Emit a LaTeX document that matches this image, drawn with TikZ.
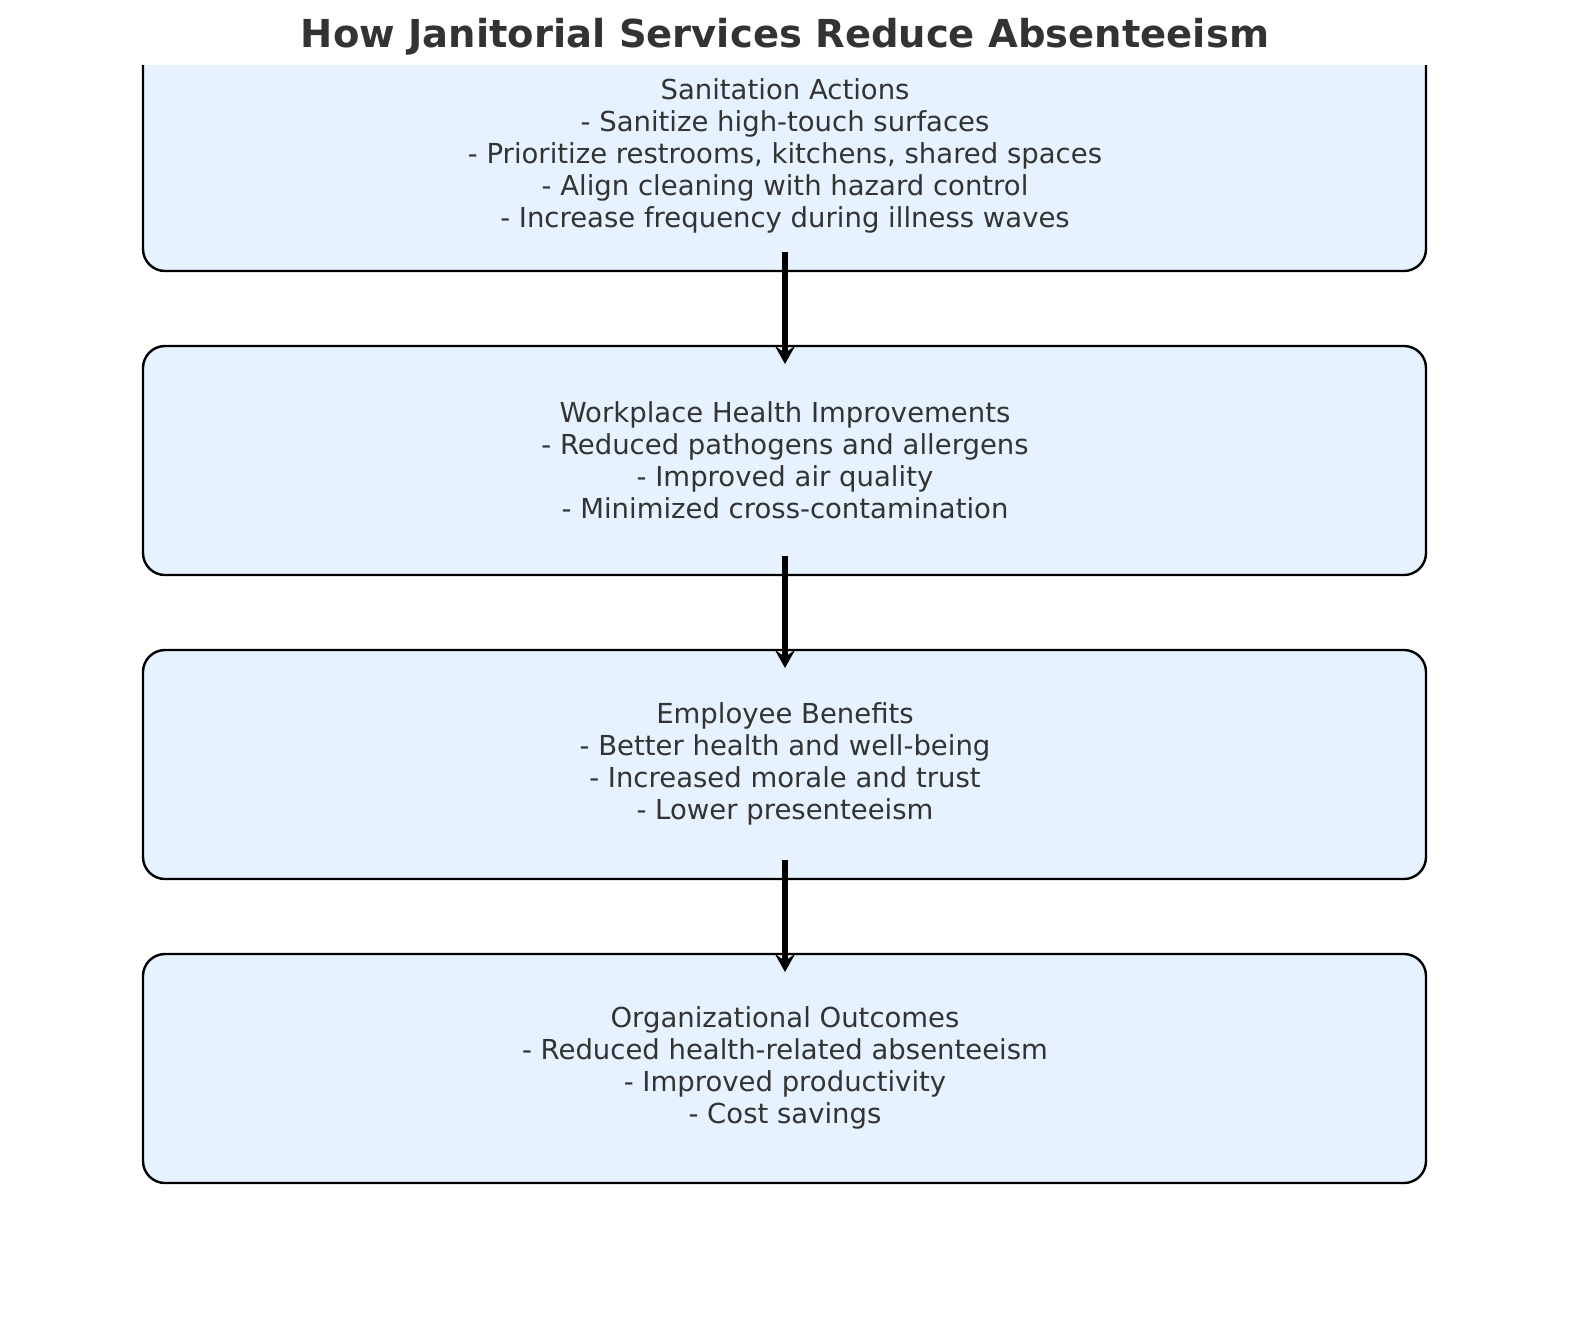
\documentclass[tikz,border=0pt]{standalone}
\usepackage{fontspec}
\setmainfont{DejaVu Sans}
\usetikzlibrary{arrows.meta}
\definecolor{boxfill}{HTML}{E6F2FF}
\definecolor{txt}{HTML}{333333}
\begin{document}
\begin{tikzpicture}[x=1pt,y=-1pt,
  box/.style={draw=black,line width=2.4pt,fill=boxfill,rounded corners=22pt},
  lbl/.style={text=txt,align=center,font=\fontsize{27.5}{32}\selectfont},
  arr/.style={line width=5.5pt,-{Stealth[length=18pt,width=20pt,inset=7pt]}}]
\useasboundingbox (0,0) rectangle (1589,1318);
\begin{scope}
\clip (0,65) rectangle (1589,1318);
\draw[box] (143,42) rectangle (1426,271);
\end{scope}
\draw[box] (143,346) rectangle (1426,575);
\draw[box] (143,650) rectangle (1426,879);
\draw[box] (143,954) rectangle (1426,1183);
\node[text=txt,font=\bfseries\fontsize{38.5}{44}\selectfont] (title) at (785,37) {How Janitorial Services Reduce Absenteeism};
\node[lbl] (n1) at (785,156) {Sanitation Actions\\- Sanitize high-touch surfaces\\- Prioritize restrooms, kitchens, shared spaces\\- Align cleaning with hazard control\\- Increase frequency during illness waves};
\node[lbl] (n2) at (785,460) {Workplace Health Improvements\\- Reduced pathogens and allergens\\- Improved air quality\\- Minimized cross-contamination};
\node[lbl] (n3) at (785,764) {Employee Benefits\\- Better health and well-being\\- Increased morale and trust\\- Lower presenteeism};
\node[lbl] (n4) at (785,1068) {Organizational Outcomes\\- Reduced health-related absenteeism\\- Improved productivity\\- Cost savings};
\coordinate (a1) at (785,252); \coordinate (b1) at (785,364);
\coordinate (a2) at (785,556); \coordinate (b2) at (785,668);
\coordinate (a3) at (785,860); \coordinate (b3) at (785,972);
\draw[arr] (a1) -- (b1);
\draw[arr] (a2) -- (b2);
\draw[arr] (a3) -- (b3);
\end{tikzpicture}
\end{document}
